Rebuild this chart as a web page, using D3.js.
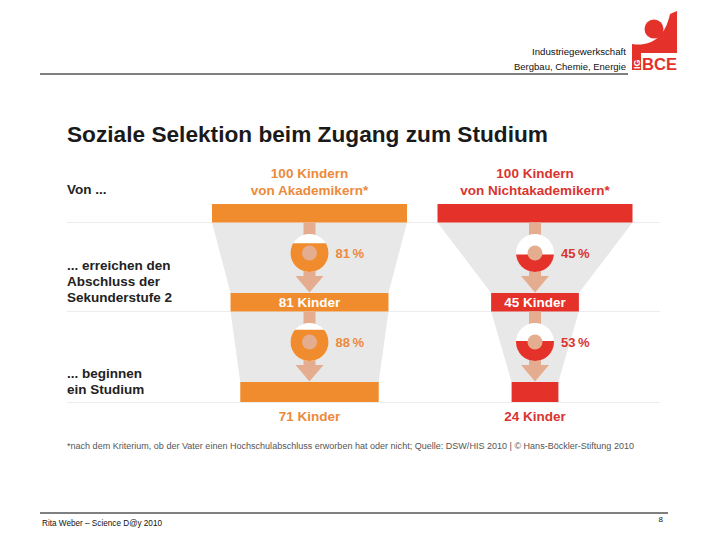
<!DOCTYPE html>
<html><head><meta charset="utf-8">
<script src="https://cdn.jsdelivr.net/npm/d3@7"></script>
<style>
html,body{margin:0;padding:0;background:#fff;}
svg{display:block;font-family:"Liberation Sans",Arial,sans-serif;}
</style></head>
<body><svg id="chart" width="720" height="540"></svg>
<script>
// ---- data ----
const groups = ["Akademikern", "Nichtakademikern"];
const groupLine1 = ["100 Kindern", "100 Kindern"];
const groupLine2 = ["von Akademikern*", "von Nichtakademikern*"];
const startCount = [100, 100];
const secondaryCount = [81, 45];
const studyCount = [71, 24];
const rateSecondary = [81, 45];
const rateStudy = [88, 53];
const stageLabels = [["Von ..."], ["... erreichen den", "Abschluss der", "Sekunderstufe 2"], ["... beginnen", "ein Studium"]];
const title = "Soziale Selektion beim Zugang zum Studium";
const footnote = "*nach dem Kriterium, ob der Vater einen Hochschulabschluss erworben hat oder nicht; Quelle: DSW/HIS 2010 | © Hans-Böckler-Stiftung 2010";
const headerLines = ["Industriegewerkschaft", "Bergbau, Chemie, Energie"];
const footerText = "Rita Weber – Science D@y 2010";
const pageNumber = "8";

// ---- styles ----
const colors = ["#f08c2e", "#e4322b"];
const textColors = ["#ec8a3c", "#d9342f"];
const salmon = "#e5ad90";
const funnelGray = "#e8e8e8";

const svg = d3.select("#chart");

// scales
const xCenter = d3.scalePoint().domain(groups).range([309.5, 535]);
const w = d3.scaleLinear().domain([0, 100]).range([0, 195]);
const yStage = d3.scaleLinear().domain([0, 2]).range([204, 382]);
const barH = [18.5, 18.5, 20];

// header
svg.append("text").attr("x", 626).attr("y", 55).attr("text-anchor", "end")
  .attr("font-size", 8.5).attr("fill", "#111").attr("textLength", 94).attr("lengthAdjust", "spacingAndGlyphs").text(headerLines[0]);
svg.append("text").attr("x", 626).attr("y", 70).attr("text-anchor", "end")
  .attr("font-size", 8.5).attr("fill", "#111").attr("textLength", 112).attr("lengthAdjust", "spacingAndGlyphs").text(headerLines[1]);
svg.append("line").attr("x1", 40).attr("x2", 628).attr("y1", 74).attr("y2", 74)
  .attr("stroke", "#000").attr("stroke-width", 1);

// logo
const logo = svg.append("g");
logo.append("circle").attr("cx", 654).attr("cy", 29).attr("r", 9.5).attr("fill", "#e4322b");
logo.append("path").attr("d", "M632,70 L632,44 C650,47 665,38 670,14 L677,11 L677,53 L641,53 L641,70 Z").attr("fill", "#e4322b");
logo.append("text").attr("transform", "translate(639.5,69) rotate(-90)").attr("font-size", 9)
  .attr("font-weight", "bold").attr("fill", "#fff").text("IG");
logo.append("text").attr("x", 642).attr("y", 70).attr("font-size", 16).attr("font-weight", "bold")
  .attr("fill", "#e4322b").attr("textLength", 35).attr("lengthAdjust", "spacingAndGlyphs").text("BCE");

// title
svg.append("text").attr("x", 67).attr("y", 142).attr("font-size", 21.5).attr("font-weight", "bold")
  .attr("fill", "#1a1a1a").attr("textLength", 481).attr("lengthAdjust", "spacingAndGlyphs").text(title);

// separator lines
[222.5, 311.5, 402.5].forEach(y => {
  svg.append("line").attr("x1", 67).attr("x2", 660).attr("y1", y).attr("y2", y)
    .attr("stroke", "#ececec").attr("stroke-width", 1);
});

// stage labels
const stageBase = [194, 270, 378];
stageLabels.forEach((lines, i) => {
  lines.forEach((t, j) => {
    svg.append("text").attr("x", 67).attr("y", stageBase[i] + j * 16)
      .attr("font-size", 13.5).attr("font-weight", "bold").attr("fill", "#222").text(t);
  });
});

// funnels
const counts = groups.map((g, i) => [startCount[i], secondaryCount[i], studyCount[i]]);
const rates = groups.map((g, i) => [rateSecondary[i], rateStudy[i]]);

function fillHeight(frac, R) {
  let lo = 0, hi = 2 * R;
  for (let k = 0; k < 50; k++) {
    const h = (lo + hi) / 2;
    const d = R - h;
    const a = R * R * Math.acos(d / R) - d * Math.sqrt(Math.max(0, 2 * R * h - h * h));
    if (a / (Math.PI * R * R) < frac) lo = h; else hi = h;
  }
  return (lo + hi) / 2;
}

groups.forEach((g, gi) => {
  const cx = xCenter(g);
  const c = counts[gi];
  const G = svg.append("g");
  for (let s = 0; s < 2; s++) {
    const y0 = yStage(s) + barH[s];
    const y1 = yStage(s + 1);
    const w0 = w(c[s]) / 2, w1 = w(c[s + 1]) / 2;
    G.append("path").attr("d", `M${cx - w0},${y0} L${cx + w0},${y0} L${cx + w1},${y1} L${cx - w1},${y1} Z`)
      .attr("fill", funnelGray);
  }
  c.forEach((v, s) => {
    G.append("rect").attr("x", cx - w(v) / 2).attr("y", yStage(s)).attr("width", w(v)).attr("height", barH[s])
      .attr("fill", colors[gi]);
  });
  rates[gi].forEach((r, s) => {
    const top = yStage(s) + barH[s];
    const bottom = yStage(s + 1);
    const cy = top + 30.5;
    const R = 19, rIn = 7.5;
    G.append("rect").attr("x", cx - 6).attr("y", top).attr("width", 12).attr("height", bottom - 16 - top)
      .attr("fill", salmon);
    G.append("path").attr("d", `M${cx - 14},${bottom - 17} L${cx + 14},${bottom - 17} L${cx},${bottom - 0.5} Z`)
      .attr("fill", salmon);
    const id = `clip${gi}${s}`;
    const h = fillHeight(r / 100, R);
    svg.append("clipPath").attr("id", id).append("rect")
      .attr("x", cx - R - 1).attr("y", cy + R - h).attr("width", 2 * R + 2).attr("height", h + 1);
    G.append("circle").attr("cx", cx).attr("cy", cy).attr("r", R).attr("fill", "#fff");
    G.append("circle").attr("cx", cx).attr("cy", cy).attr("r", R).attr("fill", colors[gi])
      .attr("clip-path", `url(#${id})`);
    G.append("circle").attr("cx", cx).attr("cy", cy).attr("r", rIn).attr("fill", salmon);
    G.append("text").attr("x", cx + 26).attr("y", cy + 4.5).attr("font-size", 13).attr("font-weight", "bold")
      .attr("fill", textColors[gi]).text(r + "\u2009%");
  });
  G.append("text").attr("x", cx).attr("y", 178).attr("text-anchor", "middle").attr("font-size", 13.5)
    .attr("font-weight", "bold").attr("fill", textColors[gi]).text(groupLine1[gi]);
  G.append("text").attr("x", cx).attr("y", 195).attr("text-anchor", "middle").attr("font-size", 13.5)
    .attr("font-weight", "bold").attr("fill", textColors[gi]).text(groupLine2[gi]);
  G.append("text").attr("x", cx).attr("y", yStage(1) + 14).attr("text-anchor", "middle").attr("font-size", 13.5)
    .attr("font-weight", "bold").attr("fill", "#fff").text(c[1] + " Kinder");
  G.append("text").attr("x", cx).attr("y", 421).attr("text-anchor", "middle").attr("font-size", 13.5)
    .attr("font-weight", "bold").attr("fill", textColors[gi]).text(c[2] + " Kinder");
});

// footnote
svg.append("text").attr("x", 67).attr("y", 449).attr("font-size", 8.5).attr("fill", "#555")
  .attr("textLength", 567).attr("lengthAdjust", "spacingAndGlyphs").text(footnote);

// footer
svg.append("line").attr("x1", 40).attr("x2", 668).attr("y1", 513).attr("y2", 513)
  .attr("stroke", "#000").attr("stroke-width", 1);
svg.append("text").attr("x", 42).attr("y", 526).attr("font-size", 8.5).attr("fill", "#111")
  .attr("textLength", 120).attr("lengthAdjust", "spacingAndGlyphs").text(footerText);
svg.append("text").attr("x", 663).attr("y", 522).attr("text-anchor", "end").attr("font-size", 8)
  .attr("fill", "#111").text(pageNumber);
</script></body></html>
